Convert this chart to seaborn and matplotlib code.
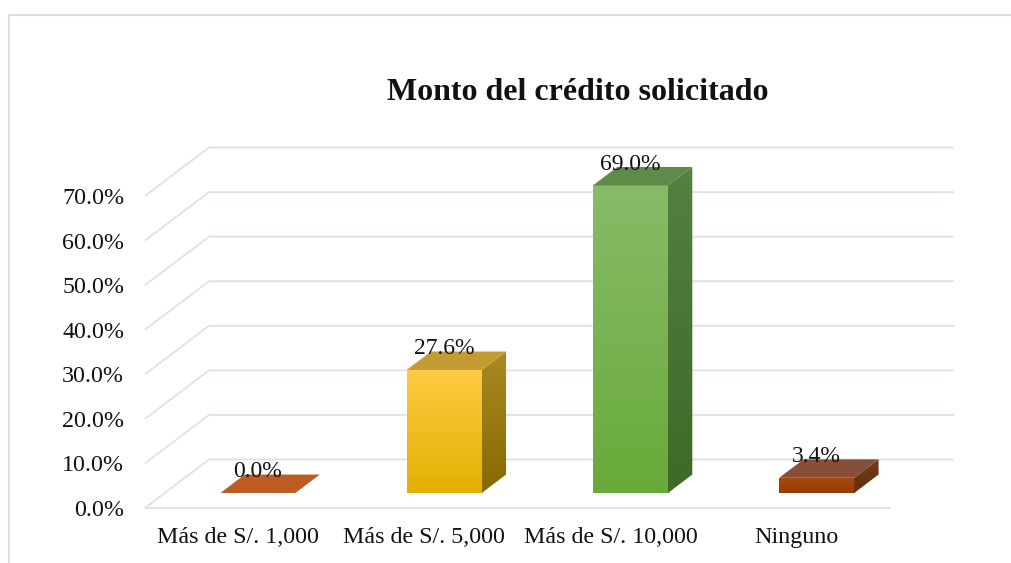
import numpy as np
import pandas as pd
import seaborn as sns
import matplotlib
matplotlib.use("Agg")
import matplotlib.pyplot as plt
from matplotlib.patches import Polygon, Rectangle

# datos del grafico
categorias = ["Más de S/. 1,000", "Más de S/. 5,000", "Más de S/. 10,000", "Ninguno"]
porcentajes = [0.0, 27.6, 69.0, 3.4]
etiquetas = ["0.0%", "27.6%", "69.0%", "3.4%"]
ticks_y = [0, 10, 20, 30, 40, 50, 60, 70]
ticks_y_txt = ["0.0%", "10.0%", "20.0%", "30.0%", "40.0%", "50.0%", "60.0%", "70.0%"]
titulo = "Monto del crédito solicitado"

# colores: frente arriba, frente abajo, lado arriba, lado abajo, tapa
colores = [
    ("#c0601f", "#b85a1c", "#8a4212", "#7a3a10", "#bc5c22"),
    ("#ffcb45", "#e2b000", "#a88a24", "#866a00", "#c49a32"),
    ("#88bb68", "#68aa3a", "#548042", "#3e6926", "#5e8a4a"),
    ("#a8480e", "#9a3c00", "#74391a", "#62300c", "#864e36"),
]
grid_color = "#dde1e8"

sns.set_theme(style="white")
plt.rcParams["font.family"] = ["Liberation Serif", "DejaVu Serif"]

W, H = 1011, 563
fig = plt.figure(figsize=(W / 100, H / 100), dpi=100)

# proyeccion oblicua (estilo Excel 3D)
PX = 186.25          # pixeles por categoria
PY = 4.457           # pixeles por 1 %
DX = 64 / PX         # profundidad total en x (unidades de categoria)
DY = 48.5 / PY       # profundidad total en y (unidades de %)
ZF, ZB = 0.31, 0.69  # profundidad frente / fondo de las barras

x0, x1 = -0.5, len(categorias) - 0.5 + DX
y0, y1 = 0, max(ticks_y) + DY
ax = fig.add_axes([145 / W, (H - 508) / H, (x1 - x0) * PX / W, (y1 - y0) * PY / H])

df = pd.DataFrame({"cat": categorias, "pct": porcentajes})
sns.barplot(data=df, x="cat", y="pct", hue="cat", palette=[c[0] for c in colores],
            width=0.403, legend=False, ax=ax)

# lineas de cuadricula (pared del fondo + pared izquierda)
for v in ticks_y:
    ax.plot([x0, x0 + DX, x1], [v, v + DY, v + DY], color=grid_color, lw=1.3,
            zorder=1, solid_capstyle="butt", clip_on=False)
ax.plot([x0, len(categorias) - 0.5], [0, 0], color=grid_color, lw=1.3, zorder=1,
        clip_on=False)

ddx, ddy = (ZB - ZF) * DX, (ZB - ZF) * DY
patches = sorted(ax.patches, key=lambda p: p.get_x())
for p, col, txt in zip(patches, colores, etiquetas):
    bx = p.get_x() + ZF * DX
    by = ZF * DY
    w, h = p.get_width(), p.get_height()
    p.set_x(bx)
    p.set_y(by)
    p.set_facecolor("none")
    p.set_edgecolor("none")
    if h > 0:
        grad = np.linspace(0, 1, 64)[:, None, None]
        c_top = np.array(matplotlib.colors.to_rgb(col[0]))
        c_bot = np.array(matplotlib.colors.to_rgb(col[1]))
        img = c_top * (1 - grad) + c_bot * grad
        front = Rectangle((bx, by), w, h, facecolor="none", edgecolor="none")
        ax.add_patch(front)
        im = ax.imshow(img, extent=[bx, bx + w, by, by + h], aspect="auto", zorder=3)
        im.set_clip_path(front)

        s_top = np.array(matplotlib.colors.to_rgb(col[2]))
        s_bot = np.array(matplotlib.colors.to_rgb(col[3]))
        img2 = s_top * (1 - grad) + s_bot * grad
        side = Polygon([(bx + w, by), (bx + w + ddx, by + ddy),
                        (bx + w + ddx, by + h + ddy), (bx + w, by + h)],
                       closed=True, facecolor="none", edgecolor="none")
        ax.add_patch(side)
        im2 = ax.imshow(img2, extent=[bx + w, bx + w + ddx, by, by + h + ddy],
                        aspect="auto", zorder=3)
        im2.set_clip_path(side)
    top = Polygon([(bx, by + h), (bx + w, by + h), (bx + w + ddx, by + h + ddy),
                   (bx + ddx, by + h + ddy)], closed=True,
                  facecolor=col[4], edgecolor="none", zorder=4)
    ax.add_patch(top)
    ax.text(bx + w / 2, by + h + ddy + 0.6, txt, ha="center", va="center",
            fontsize=17, color="#111111", zorder=5, clip_on=False)

ax.set_xlim(x0, x1)
ax.set_ylim(y0, y1)
ax.set_xlabel("")
ax.set_ylabel("")
ax.set_yticks(ticks_y, ticks_y_txt)
ax.set_xticks(range(len(categorias)), categorias)
ax.tick_params(axis="y", length=0, pad=15, labelsize=17.3, labelcolor="#111111")
ax.tick_params(axis="x", length=0, pad=14, labelsize=17.3, labelcolor="#111111")
ax.set_facecolor("none")
for s in ax.spines.values():
    s.set_visible(False)

fig.text(578 / W, 1 - 92 / H, titulo, ha="center", va="center",
         fontsize=23, fontweight="bold", color="#111111")

# marco del area del grafico
fig.patches.append(Rectangle((8.5 / W, -0.1), 1.2, (H - 14.5) / H + 0.1,
                             transform=fig.transFigure, fill=False,
                             edgecolor="#dadde4", lw=1.5))

plt.savefig("out.png", dpi=100)
